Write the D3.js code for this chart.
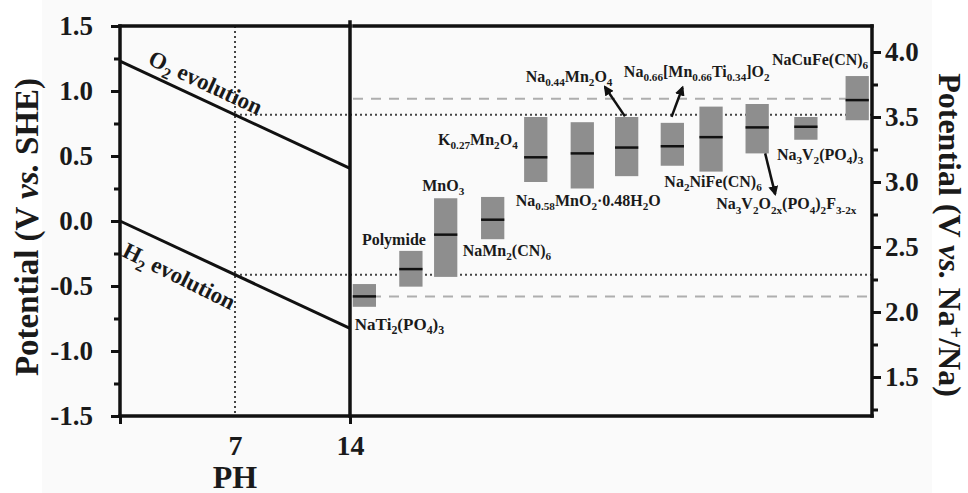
<!DOCTYPE html>
<html lang="en">
<head>
<meta charset="utf-8">
<title>Potential window - aqueous sodium electrodes</title>
<script src="https://cdn.jsdelivr.net/npm/d3@7"></script>
<style>
  body { margin: 0; background: #fff; }
  svg text { font-family: "Liberation Serif", "Times New Roman", serif; font-weight: bold; fill: #1a1a1a; }
</style>
</head>
<body>
<script>
// data
var phVals = [0, 14];
var o2Vals = [1.23, 0.404];     // V vs SHE
var h2Vals = [0, -0.826];
var ph7 = 7, o2At7 = 0.817, h2At7 = -0.413;
var naOffset = 2.7;              // V(Na+/Na) = V(SHE) + 2.7

var materials = ["NaTi_{2}(PO_{4})_{3}", "Polymide", "MnO_{3}", "NaMn_{2}(CN)_{6}",
  "K_{0.27}Mn_{2}O_{4}", "Na_{0.58}MnO_{2}\u00b70.48H_{2}O", "Na_{0.44}Mn_{2}O_{4}",
  "Na_{0.66}[Mn_{0.66}Ti_{0.34}]O_{2}", "Na_{2}NiFe(CN)_{6}",
  "Na_{3}V_{2}O_{2x}(PO_{4})_{2}F_{3-2x}", "Na_{3}V_{2}(PO_{4})_{3}", "NaCuFe(CN)_{6}"];
var slot = [0.33, 1.4, 2.2, 3.28, 4.27, 5.34, 6.36, 7.41, 8.3, 9.36, 10.48, 11.66];
var lowV = [2.04, 2.195, 2.27, 2.56, 3.0, 2.95, 3.045, 3.125, 3.08, 3.22, 3.325, 3.475];
var highV = [2.215, 2.47, 2.875, 2.885, 3.5, 3.46, 3.5, 3.455, 3.58, 3.6, 3.5, 3.815];
var midV = [2.12, 2.33, 2.595, 2.71, 3.19, 3.22, 3.265, 3.275, 3.345, 3.42, 3.425, 3.63];
var dashedV = [3.64, 2.12];

var leftTicks = [-1.5, -1.0, -0.5, 0.0, 0.5, 1.0, 1.5];
var rightTicks = [1.5, 2.0, 2.5, 3.0, 3.5, 4.0];

// layout of labels relative to each box
var labelLayout = [
  {a: "start", dx: -9.5, ref: "bot", dy: 23},
  {a: "end", dx: 15, ref: "top", dy: -6},
  {a: "middle", dx: -2.5, ref: "top", dy: -7},
  {a: "start", dx: -30, ref: "bot", dy: 17},
  {a: "end", dx: -18, ref: "top", dy: 28},
  {a: "middle", dx: 6, ref: "bot", dy: 17},
  {a: "start", dx: -101, ref: "top", dy: -35},
  {a: "start", dx: -48.5, ref: "top", dy: -46},
  {a: "middle", dx: 2, ref: "bot", dy: 15},
  {a: "start", dx: -41, ref: "bot", dy: 56},
  {a: "start", dx: -29, ref: "bot", dy: 20},
  {a: "end", dx: 11, ref: "top", dy: -11}
];
var arrows = [
  {i: 6, ref: "top", x0: -1.7, y0: -0.6, x1: -21.7, y1: -30},
  {i: 7, ref: "top", x0: -0.8, y0: -6, x1: 10.2, y1: -35.4},
  {i: 9, ref: "bot", x0: 8, y0: 0, x1: 18, y1: 40.7}
];

var w = 968, h = 493;
var yTop = 26, yBot = 416;
var labSize = 16;

var svg = d3.select("body").append("svg").attr("width", w).attr("height", h);
svg.append("rect").attr("x", 42).attr("y", 0).attr("width", 890).attr("height", h).attr("fill", "#fafafa");

var yL = d3.scaleLinear().domain([-1.5, 1.5]).range([yBot, yTop]);
var yR = d3.scaleLinear().domain([-1.5 + naOffset, 1.5 + naOffset]).range([yBot, yTop]);
var xPH = d3.scaleLinear().domain([0, 14]).range([120, 350]);
var xM = d3.scaleLinear().domain([0, 12]).range([350, 872]);
var boxW = xM(0.535) - xM(0);

function rich(sel, str, size) {
  var parts = str.split(/([_^]\{[^}]*\})/).filter(function(s) { return s.length; });
  var shift = 0;
  parts.forEach(function(p) {
    var target = 0, txt = p, fs = size;
    if (p[0] === "_") { target = 0.26 * size; txt = p.slice(2, -1); fs = size * 0.7; }
    else if (p[0] === "^") { target = -0.38 * size; txt = p.slice(2, -1); fs = size * 0.65; }
    sel.append("tspan").attr("dy", target - shift).attr("font-size", fs).text(txt);
    shift = target;
  });
}

// reference lines
var dotted = "2,3";
svg.append("line").attr("x1", xPH(ph7)).attr("x2", xPH(ph7)).attr("y1", yTop).attr("y2", yBot)
  .attr("stroke", "#444").attr("stroke-width", 2).attr("stroke-dasharray", dotted);
[o2At7, h2At7].forEach(function(v) {
  svg.append("line").attr("x1", xPH(ph7)).attr("x2", xM(12)).attr("y1", yL(v)).attr("y2", yL(v))
    .attr("stroke", "#444").attr("stroke-width", 2).attr("stroke-dasharray", dotted);
});
svg.selectAll(".dash").data(dashedV).enter().append("line")
  .attr("x1", xM(0) + 3).attr("x2", xM(12)).attr("y1", yR).attr("y2", yR)
  .attr("stroke", "#aeaeae").attr("stroke-width", 2).attr("stroke-dasharray", "10,8");

// evolution lines
var line = d3.line().x(function(d) { return xPH(d[0]); }).y(function(d) { return yL(d[1]); });
[o2Vals, h2Vals].forEach(function(vals) {
  svg.append("path").datum(d3.zip(phVals, vals)).attr("d", line)
    .attr("fill", "none").attr("stroke", "#111").attr("stroke-width", 3);
});
var ang = Math.atan2(yL(o2Vals[1]) - yL(o2Vals[0]), xPH(14) - xPH(0)) * 180 / Math.PI;
var o2t = svg.append("text").attr("font-size", 23)
  .attr("transform", "translate(" + xPH(1.4) + "," + yL(1.23 - 0.059 * 1.4) + ") rotate(" + ang + ") translate(0,-9)");
rich(o2t, "O_{2} evolution", 23);
var h2t = svg.append("text").attr("font-size", 23)
  .attr("transform", "translate(" + xPH(0.9) + "," + yL(-0.059 * 0.9) + ") rotate(" + (ang + 1.5) + ") translate(0,31)");
rich(h2t, "H_{2} evolution", 23);

// boxes
var g = svg.selectAll(".mat").data(materials).enter().append("g").attr("class", "mat");
g.append("rect")
  .attr("x", function(d, i) { return xM(slot[i]) - boxW / 2; })
  .attr("y", function(d, i) { return yR(highV[i]); })
  .attr("width", boxW)
  .attr("height", function(d, i) { return yR(lowV[i]) - yR(highV[i]); })
  .attr("fill", "#8e8e8e");
g.append("line")
  .attr("x1", function(d, i) { return xM(slot[i]) - boxW / 2; })
  .attr("x2", function(d, i) { return xM(slot[i]) + boxW / 2; })
  .attr("y1", function(d, i) { return yR(midV[i]); })
  .attr("y2", function(d, i) { return yR(midV[i]); })
  .attr("stroke", "#111").attr("stroke-width", 2.5);
g.each(function(d, i) {
  var L = labelLayout[i];
  var yRef = L.ref === "top" ? yR(highV[i]) : yR(lowV[i]);
  var t = d3.select(this).append("text").attr("font-size", labSize).attr("text-anchor", L.a)
    .attr("x", xM(slot[i]) + L.dx).attr("y", yRef + L.dy);
  rich(t, d, i === 0 ? 17 : labSize);
});

// arrows
svg.append("defs").append("marker").attr("id", "ah").attr("viewBox", "0 0 10 10")
  .attr("refX", 8).attr("refY", 5).attr("markerWidth", 4).attr("markerHeight", 4)
  .attr("orient", "auto").append("path").attr("d", "M0,0L10,5L0,10z").attr("fill", "#111");
arrows.forEach(function(a) {
  var cx = xM(slot[a.i]);
  var yRef = a.ref === "top" ? yR(highV[a.i]) : yR(lowV[a.i]);
  svg.append("line").attr("x1", cx + a.x0).attr("y1", yRef + a.y0)
    .attr("x2", cx + a.x1).attr("y2", yRef + a.y1)
    .attr("stroke", "#111").attr("stroke-width", 2.5).attr("marker-end", "url(#ah)");
});

// axes
var fmt = function(d) { return d.toFixed(1); };
var minorL = d3.range(-1.25, 1.5, 0.5);
var minorR = d3.range(1.25, 4.2, 0.5);

var axL = svg.append("g").attr("transform", "translate(120,0)")
  .call(d3.axisLeft(yL).tickValues(leftTicks).tickFormat(fmt).tickSize(9).tickPadding(18));
var axL2 = svg.append("g").attr("transform", "translate(120,0)")
  .call(d3.axisLeft(yL).tickValues(minorL).tickFormat("").tickSize(6));
var axR = svg.append("g").attr("transform", "translate(872,0)")
  .call(d3.axisRight(yR).tickValues(rightTicks).tickFormat(fmt).tickSize(9).tickPadding(4));
var axR2 = svg.append("g").attr("transform", "translate(872,0)")
  .call(d3.axisRight(yR).tickValues(minorR).tickFormat("").tickSize(6));
var axB = svg.append("g").attr("transform", "translate(0," + yBot + ")")
  .call(d3.axisBottom(xPH).tickValues([0, 14]).tickFormat("").tickSize(8));
var axB2 = svg.append("g").attr("transform", "translate(0," + yBot + ")")
  .call(d3.axisBottom(xPH).tickValues([7, 14]).tickSize(0).tickPadding(19));

[axL, axL2, axR, axR2, axB, axB2].forEach(function(a) {
  a.select(".domain").remove();
  a.selectAll(".tick line").attr("stroke", "#111").attr("stroke-width", 3);
  a.selectAll(".tick text").attr("font-size", 27).attr("font-family", null).attr("fill", "#1a1a1a");
});
axB2.selectAll(".tick text").attr("font-size", 28).attr("dy", "0.71em");

// frame
var frame = [[120, yTop, 350, yTop], [354, yTop, 872, yTop], [120, yBot, 872, yBot],
  [120, yTop, 120, yBot], [872, yTop, 872, yBot], [350, yTop - 4, 350, yBot]];
frame.forEach(function(f) {
  svg.append("line").attr("x1", f[0]).attr("y1", f[1]).attr("x2", f[2]).attr("y2", f[3])
    .attr("stroke", "#111").attr("stroke-width", 3.5).attr("stroke-linecap", "square");
});

// titles
svg.append("text").attr("x", xPH(7)).attr("y", 488).attr("text-anchor", "middle")
  .attr("font-size", 32).text("PH");

var tl = svg.append("text").attr("font-size", 33).attr("text-anchor", "middle")
  .attr("dominant-baseline", "central")
  .attr("transform", "translate(27,227) rotate(-90)");
tl.append("tspan").text("Potential (V ");
tl.append("tspan").attr("font-style", "italic").text("vs.");
tl.append("tspan").text(" SHE)");

var tr = svg.append("text").attr("font-size", 32).attr("text-anchor", "middle")
  .attr("transform", "translate(939,235) rotate(90)");
tr.append("tspan").text("Potential (V ");
tr.append("tspan").attr("font-style", "italic").text("vs.");
tr.append("tspan").text(" Na");
tr.append("tspan").attr("font-size", 20).attr("dy", -10).text("+");
tr.append("tspan").attr("dy", 10).text("/Na)");
</script>
</body>
</html>
